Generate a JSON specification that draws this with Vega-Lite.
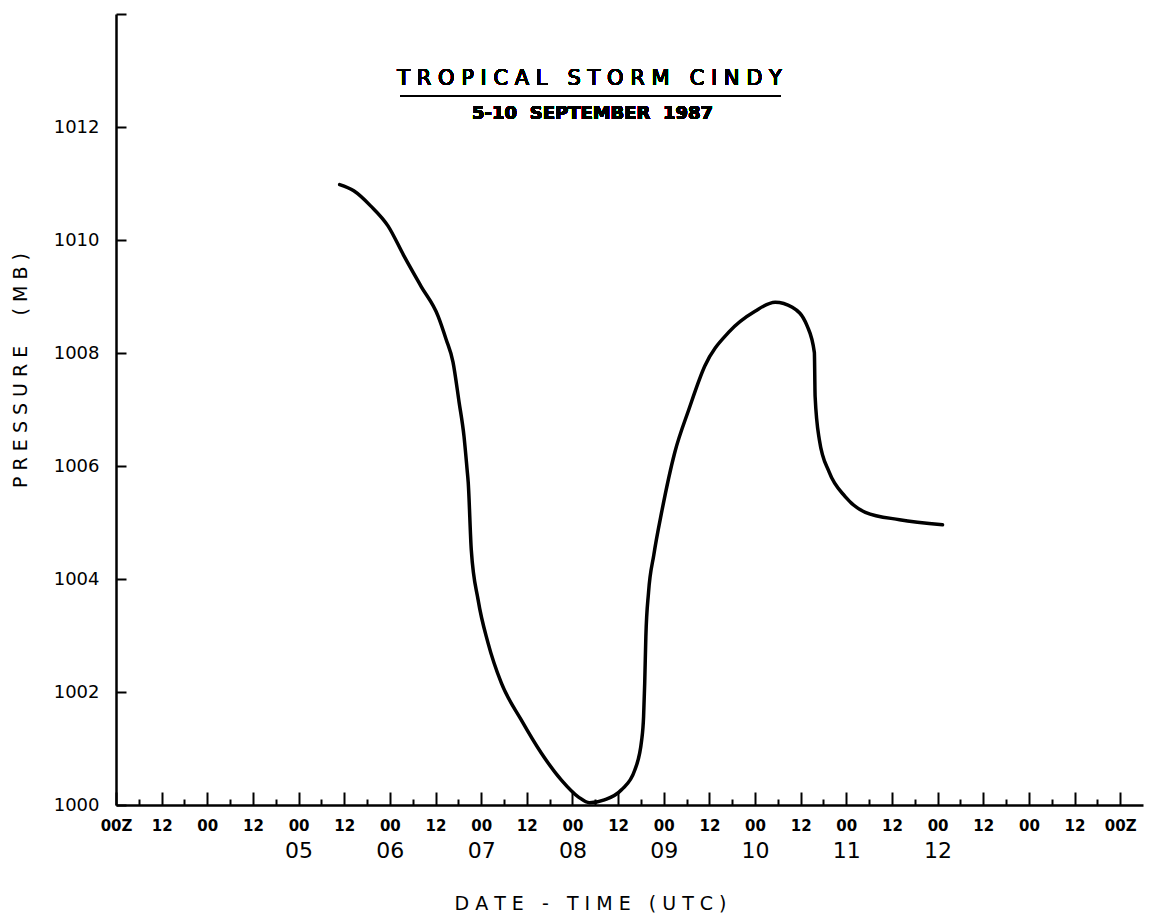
{
  "$schema": "https://vega.github.io/schema/vega-lite/v6.json",
  "width": 1027,
  "height": 791,
  "autosize": {"type": "none"},
  "padding": {"left": 116, "top": 14, "right": 8, "bottom": 112},
  "background": "white",
  "config": {
    "view": {"stroke": null},
    "font": "DejaVu Sans",
    "axis": {"grid": false, "domainColor": "black", "tickColor": "black", "labelColor": "black", "titleColor": "black"}
  },
  "data": {
    "values": [
      {"h": 58.8, "p": 1010.98},
      {"h": 62.5, "p": 1010.87},
      {"h": 67.0, "p": 1010.60},
      {"h": 71.5, "p": 1010.25},
      {"h": 75.7, "p": 1009.72},
      {"h": 80.2, "p": 1009.18},
      {"h": 84.7, "p": 1008.65},
      {"h": 86.8, "p": 1008.24},
      {"h": 88.6, "p": 1007.84},
      {"h": 90.2, "p": 1007.13},
      {"h": 91.5, "p": 1006.52},
      {"h": 92.3, "p": 1005.94},
      {"h": 92.6, "p": 1005.71},
      {"h": 93.4, "p": 1004.52},
      {"h": 95.2, "p": 1003.63},
      {"h": 97.8, "p": 1002.87},
      {"h": 101.3, "p": 1002.16},
      {"h": 106.5, "p": 1001.51},
      {"h": 111.8, "p": 1000.92},
      {"h": 117.1, "p": 1000.44},
      {"h": 121.6, "p": 1000.14},
      {"h": 124.5, "p": 1000.04},
      {"h": 128.4, "p": 1000.09},
      {"h": 132.9, "p": 1000.27},
      {"h": 136.4, "p": 1000.62},
      {"h": 138.2, "p": 1001.15},
      {"h": 138.7, "p": 1001.56},
      {"h": 139.0, "p": 1002.16},
      {"h": 139.3, "p": 1002.98},
      {"h": 140.0, "p": 1003.76},
      {"h": 141.4, "p": 1004.43},
      {"h": 143.5, "p": 1005.20},
      {"h": 146.9, "p": 1006.24},
      {"h": 150.6, "p": 1007.00},
      {"h": 154.8, "p": 1007.77},
      {"h": 161.1, "p": 1008.37},
      {"h": 168.0, "p": 1008.74},
      {"h": 173.3, "p": 1008.90},
      {"h": 177.8, "p": 1008.81},
      {"h": 181.7, "p": 1008.48},
      {"h": 183.6, "p": 1008.01},
      {"h": 183.8, "p": 1007.23},
      {"h": 184.9, "p": 1006.47},
      {"h": 187.5, "p": 1005.89},
      {"h": 191.7, "p": 1005.46},
      {"h": 197.0, "p": 1005.18},
      {"h": 206.0, "p": 1005.05},
      {"h": 217.3, "p": 1004.96}
    ]
  },
  "layer": [
    {
      "mark": {"type": "line", "color": "black", "strokeWidth": 3.5, "interpolate": "monotone", "strokeCap": "round"},
      "encoding": {
        "x": {
          "field": "h", "type": "quantitative",
          "scale": {"domain": [0, 270], "nice": false, "zero": false},
          "axis": {
            "orient": "bottom",
            "values": [0,6,12,18,24,30,36,42,48,54,60,66,72,78,84,90,96,102,108,114,120,126,132,138,144,150,156,162,168,174,180,186,192,198,204,210,216,222,228,234,240,246,252,258,264],
            "tickSize": {"condition": {"test": "datum.value % 12 === 0", "value": -13}, "value": -6},
            "tickWidth": 2,
            "domainWidth": 2.5,
            "labelExpr": "datum.value % 12 !== 0 ? '' : ((datum.value === 0 || datum.value === 264) ? '00Z' : (datum.value % 24 === 0 ? '00' : '12'))",
            "labelFontSize": 15,
            "labelFontWeight": "bold",
            "labelPadding": 26,
            "labelFlush": false,
            "labelOverlap": false,
            "labelBound": false,
            "title": "D A T E \u00a0 - \u00a0 T I M E \u00a0 ( U T C )",
            "titleFontSize": 19,
            "titleFontWeight": "normal",
            "titleX": 474,
            "titleY": 98,
            "titleBaseline": "middle"
          }
        },
        "y": {
          "field": "p", "type": "quantitative",
          "scale": {"domain": [1000, 1014], "nice": false, "zero": false},
          "axis": {
            "orient": "left",
            "values": [1000,1002,1004,1006,1008,1010,1012,1014],
            "format": "d",
            "labelExpr": "datum.value >= 1014 ? '' : datum.label",
            "tickSize": -10,
            "tickWidth": 2,
            "domainWidth": 2.5,
            "labelFontSize": 18,
            "labelPadding": 27,
            "labelBaseline": "middle",
            "labelOverlap": false,
            "title": "P R E S S U R E \u00a0 \u00a0 ( M B )",
            "titleFontSize": 19,
            "titleFontWeight": "normal",
            "titleX": -96,
            "titleY": 356,
            "titleBaseline": "middle",
            "titleAngle": -90
          }
        }
      }
    },
    {
      "mark": {"type": "line", "strokeOpacity": 0},
      "encoding": {
        "x": {
          "field": "h", "type": "quantitative",
          "scale": {"domain": [0, 270], "nice": false, "zero": false},
          "axis": {
            "orient": "bottom",
            "values": [48,72,96,120,144,168,192,216],
            "labelExpr": "format(3 + datum.value / 24, '02d')",
            "ticks": false,
            "domain": false,
            "labelFontSize": 22,
            "labelPadding": 35,
            "labelFlush": false,
            "labelOverlap": false,
            "title": null
          }
        },
        "y": {"field": "p", "type": "quantitative", "scale": {"domain": [1000, 1014], "nice": false, "zero": false}, "axis": null}
      }
    },
    {
      "mark": {"type": "text", "text": "T R O P I C A L \u00a0 S T O R M \u00a0 C I N D Y", "fontSize": 21, "align": "center", "baseline": "alphabetic", "color": "black"},
      "encoding": {
        "x": {"datum": 124.5, "type": "quantitative", "scale": {"domain": [0, 270], "nice": false, "zero": false}, "axis": null},
        "y": {"datum": 1012.74, "type": "quantitative", "scale": {"domain": [1000, 1014], "nice": false, "zero": false}, "axis": null}
      }
    },
    {
      "mark": {"type": "rule", "color": "black", "strokeWidth": 2},
      "encoding": {
        "x": {"datum": 74.9, "type": "quantitative", "scale": {"domain": [0, 270], "nice": false, "zero": false}, "axis": null},
        "x2": {"datum": 174.6},
        "y": {"datum": 1012.55, "type": "quantitative", "scale": {"domain": [1000, 1014], "nice": false, "zero": false}, "axis": null}
      }
    },
    {
      "mark": {"type": "text", "text": "5-10\u00a0 SEPTEMBER\u00a0 1987", "fontSize": 18, "fontWeight": "bold", "align": "center", "baseline": "alphabetic", "color": "black"},
      "encoding": {
        "x": {"datum": 125.3, "type": "quantitative", "scale": {"domain": [0, 270], "nice": false, "zero": false}, "axis": null},
        "y": {"datum": 1012.15, "type": "quantitative", "scale": {"domain": [1000, 1014], "nice": false, "zero": false}, "axis": null}
      }
    }
  ],
  "resolve": {"axis": {"x": "independent", "y": "independent"}}
}
